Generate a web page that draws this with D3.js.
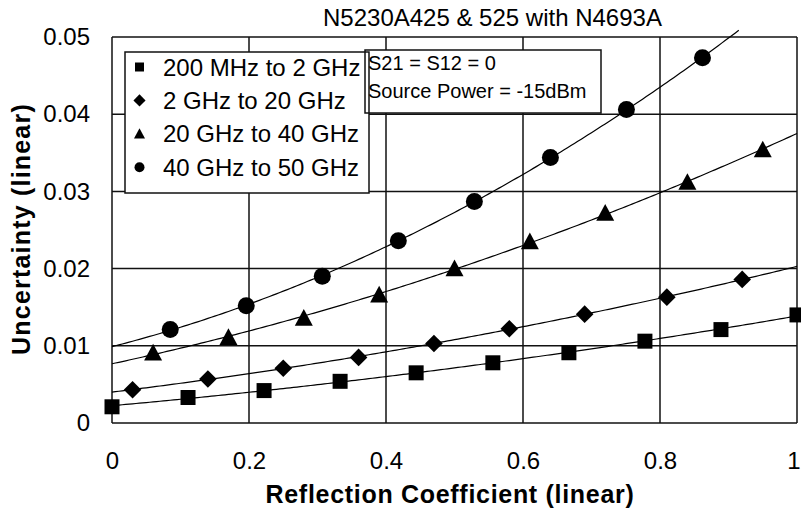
<!DOCTYPE html>
<html>
<head>
<meta charset="utf-8">
<script src="https://cdn.jsdelivr.net/npm/d3@7"></script>
<style>
  body { margin: 0; background: #fff; }
  svg { display: block; }
  text { font-family: "Liberation Sans", Arial, sans-serif; fill: #000; }
</style>
</head>
<body>
<svg id="chart" width="801" height="516"></svg>
<script>
// ---- data -------------------------------------------------------------
const chartTitle = "N5230A425 & 525 with N4693A";
const xTitle = "Reflection Coefficient (linear)";
const yTitle = "Uncertainty (linear)";
const notes = ["S21 = S12 = 0", "Source Power = -15dBm"];

const xTickValues = [0, 0.2, 0.4, 0.6, 0.8, 1];
const xTickLabels = ["0", "0.2", "0.4", "0.6", "0.8", "1"];
const yTickValues = [0, 0.01, 0.02, 0.03, 0.04, 0.05];
const yTickLabels = ["0", "0.01", "0.02", "0.03", "0.04", "0.05"];

const bandNames = ["200 MHz to 2 GHz", "2 GHz to 20 GHz", "20 GHz to 40 GHz", "40 GHz to 50 GHz"];
const bandSymbols = ["square", "diamond", "triangle", "circle"];

// reflection coefficient / uncertainty pairs for each band
const rho200M = [0, 0.111, 0.222, 0.333, 0.444, 0.556, 0.667, 0.778, 0.889, 1.0];
const unc200M = [0.0021, 0.0033, 0.0042, 0.0054, 0.0065, 0.0078, 0.0091, 0.0106, 0.0121, 0.0140];

const rho2G = [0.03, 0.14, 0.25, 0.36, 0.47, 0.58, 0.69, 0.81, 0.92];
const unc2G = [0.0043, 0.0057, 0.0071, 0.0085, 0.0103, 0.0122, 0.0141, 0.0163, 0.0186];

const rho20G = [0.06, 0.17, 0.28, 0.39, 0.50, 0.61, 0.72, 0.84, 0.95];
const unc20G = [0.0091, 0.0111, 0.0136, 0.0166, 0.0200, 0.0235, 0.0272, 0.0312, 0.0354];

const rho40G = [0.085, 0.196, 0.307, 0.418, 0.529, 0.64, 0.751, 0.862];
const unc40G = [0.0121, 0.0152, 0.0190, 0.0236, 0.0287, 0.0344, 0.0406, 0.0473];

const bandRho = [rho200M, rho2G, rho20G, rho40G];
const bandUnc = [unc200M, unc2G, unc20G, unc40G];

// ---- layout -----------------------------------------------------------
const svg = d3.select("#chart");
const plot = { left: 112, right: 797, top: 37, bottom: 423 };

const x = d3.scaleLinear().domain([0, 1]).range([plot.left, plot.right]);
const y = d3.scaleLinear().domain([0, 0.05]).range([plot.bottom, plot.top]);

// ---- gridlines / frame ------------------------------------------------
const grid = svg.append("g").attr("stroke", "#111").attr("stroke-width", 1.5);
grid.selectAll("line.v").data(xTickValues).join("line")
  .attr("class", "v")
  .attr("x1", d => x(d)).attr("x2", d => x(d))
  .attr("y1", plot.top).attr("y2", plot.bottom);
grid.selectAll("line.h").data(yTickValues).join("line")
  .attr("class", "h")
  .attr("x1", plot.left).attr("x2", plot.right)
  .attr("y1", d => y(d)).attr("y2", d => y(d));

// ---- axes (labels only) -----------------------------------------------
const xAxis = svg.append("g")
  .attr("transform", `translate(0,${plot.bottom})`)
  .call(d3.axisBottom(x).tickValues(xTickValues)
    .tickFormat((d, i) => xTickLabels[i]).tickSize(0).tickPadding(29));
xAxis.select(".domain").remove();
xAxis.selectAll("text")
  .style("font-family", '"Liberation Sans", Arial, sans-serif')
  .style("font-size", "24px").attr("fill", "#000");
// the label at the right edge is kept inside the canvas
xAxis.selectAll(".tick").filter(d => d === 1).select("text")
  .attr("text-anchor", "end").attr("x", 3);

const yAxis = svg.append("g")
  .attr("transform", `translate(${plot.left},0)`)
  .call(d3.axisLeft(y).tickValues(yTickValues)
    .tickFormat((d, i) => yTickLabels[i]).tickSize(0).tickPadding(22));
yAxis.select(".domain").remove();
yAxis.selectAll("text")
  .style("font-family", '"Liberation Sans", Arial, sans-serif')
  .style("font-size", "24px").attr("fill", "#000");

// ---- titles -----------------------------------------------------------
svg.append("text")
  .attr("x", 323).attr("y", 26)
  .attr("font-size", 24)
  .text(chartTitle);

svg.append("text")
  .attr("x", 450).attr("y", 503)
  .attr("text-anchor", "middle")
  .attr("font-size", 25).attr("font-weight", "bold")
  .attr("letter-spacing", 0.7)
  .text(xTitle);

svg.append("text")
  .attr("transform", "translate(30,229) rotate(-90)")
  .attr("text-anchor", "middle")
  .attr("font-size", 25).attr("font-weight", "bold")
  .attr("letter-spacing", 1.2)
  .text(yTitle);

// ---- trendlines (least-squares quadratic through each band) -----------
function quadFit(xs, ys) {
  const S = [0, 0, 0, 0, 0], T = [0, 0, 0];
  xs.forEach((xv, i) => {
    let p = 1;
    for (let k = 0; k < 5; k++) { S[k] += p; if (k < 3) T[k] += p * ys[i]; p *= xv; }
  });
  const M = [[S[0], S[1], S[2]], [S[1], S[2], S[3]], [S[2], S[3], S[4]]];
  const det = m => m[0][0] * (m[1][1] * m[2][2] - m[1][2] * m[2][1])
                 - m[0][1] * (m[1][0] * m[2][2] - m[1][2] * m[2][0])
                 + m[0][2] * (m[1][0] * m[2][1] - m[1][1] * m[2][0]);
  const D = det(M);
  return [0, 1, 2].map(c => det(M.map((row, r) => row.map((v, j) => j === c ? T[r] : v))) / D);
}

const line = d3.line().x(d => x(d[0])).y(d => y(d[1]));
const curves = svg.append("g").attr("fill", "none").attr("stroke", "#000").attr("stroke-width", 1.2);
bandRho.forEach((xs, b) => {
  const [a0, a1, a2] = quadFit(xs, bandUnc[b]);
  const pts = [];
  for (let t = 0; t <= 1.0001; t += 0.005) {
    const u = a0 + a1 * t + a2 * t * t;
    if (u > 0.0509) break;
    pts.push([t, u]);
  }
  curves.append("path").attr("d", line(pts));
});

// ---- markers ----------------------------------------------------------
function markerPath(kind, s) {
  // s = nominal full width of the symbol in px
  const h = s / 2;
  switch (kind) {
    case "square":
      return `M${-h},${-h}H${h}V${h}H${-h}Z`;
    case "diamond":
      return `M0,${-h * 1.1}L${h * 1.1},0L0,${h * 1.1}L${-h * 1.1},0Z`;
    case "triangle":
      return `M0,${-h}L${h},${h * 0.85}L${-h},${h * 0.85}Z`;
    default: {
      const r = h;
      return `M${r},0A${r},${r} 0 1,1 ${-r},0A${r},${r} 0 1,1 ${r},0Z`;
    }
  }
}
const markerSize = { square: 15, diamond: 16, triangle: 18, circle: 17 };

const marks = svg.append("g").attr("fill", "#000");
bandRho.forEach((xs, b) => {
  const kind = bandSymbols[b];
  marks.selectAll(null).data(xs.map((xv, i) => [xv, bandUnc[b][i]])).join("path")
    .attr("transform", d => `translate(${x(d[0])},${y(d[1])})`)
    .attr("d", markerPath(kind, markerSize[kind]));
});

// ---- legend and note boxes -------------------------------------------
const legendBox = { x: 125, y: 52, w: 244, h: 141 };
const noteBox = { x: 365, y: 50, w: 236, h: 63 };

svg.append("rect").attr("x", legendBox.x).attr("y", legendBox.y)
  .attr("width", legendBox.w).attr("height", legendBox.h).attr("fill", "#fff");
svg.append("rect").attr("x", noteBox.x).attr("y", noteBox.y)
  .attr("width", noteBox.w).attr("height", noteBox.h).attr("fill", "#fff");
svg.append("rect").attr("x", legendBox.x).attr("y", legendBox.y)
  .attr("width", legendBox.w).attr("height", legendBox.h)
  .attr("fill", "none").attr("stroke", "#111").attr("stroke-width", 1.5);
svg.append("rect").attr("x", noteBox.x).attr("y", noteBox.y)
  .attr("width", noteBox.w).attr("height", noteBox.h)
  .attr("fill", "none").attr("stroke", "#111").attr("stroke-width", 1.5);

const legendMarkerSize = { square: 9, diamond: 11, triangle: 11, circle: 10 };
const legend = svg.append("g");
bandNames.forEach((name, i) => {
  const row = legend.append("g").attr("transform", `translate(0,${67 + i * 33.4})`);
  const kind = bandSymbols[i];
  row.append("path")
    .attr("transform", "translate(139.5,0)")
    .attr("d", markerPath(kind, legendMarkerSize[kind]))
    .attr("fill", "#000");
  row.append("text")
    .attr("x", 163).attr("y", 8.5)
    .attr("font-size", 24)
    .text(name);
});

svg.append("g").selectAll("text").data(notes).join("text")
  .attr("x", 368).attr("y", (d, i) => 70 + i * 27.5)
  .attr("font-size", 20)
  .text(d => d);
</script>
</body>
</html>
